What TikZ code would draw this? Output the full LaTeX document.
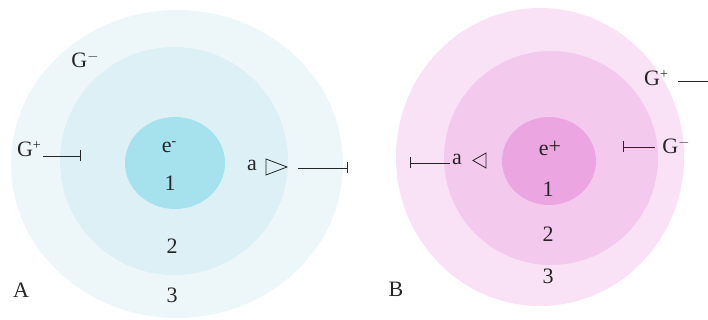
\documentclass[tikz,border=0pt]{standalone}
\usepackage{fontspec}
\setmainfont{Liberation Serif}
\usetikzlibrary{arrows.meta}
\definecolor{aouter}{HTML}{EDF7FA}
\definecolor{amid}{HTML}{DDF0F6}
\definecolor{ainner}{HTML}{A6E2EE}
\definecolor{bouter}{HTML}{F9E2F5}
\definecolor{bmid}{HTML}{F4C9EE}
\definecolor{binner}{HTML}{EBA6E2}
\newcommand{\supsign}[1]{\raisebox{7pt}{\fontsize{14}{14}\selectfont #1}}
\begin{document}
\begin{tikzpicture}[x=1pt,y=-1pt,
  lbl/.style={inner sep=0pt,font=\fontsize{22}{22}\selectfont,text=black!85},
  tickline/.style={draw=black!85,line width=0.8pt,-{Bar[width=11pt,line width=0.8pt]}},
  tri/.style={draw=black!85,line width=0.8pt,fill=none}]
\useasboundingbox (0,0) rectangle (708,320);
% A circles
\fill[aouter] (177,164) ellipse [x radius=166,y radius=154];
\fill[amid] (174,161) circle [radius=114];
\fill[ainner] (175,163) ellipse [x radius=50,y radius=46];
% B circles
\fill[bouter] (540,157) ellipse [x radius=144,y radius=149];
\fill[bmid] (551,158) circle [radius=107];
\fill[binner] (549,161) ellipse [x radius=47,y radius=44];
% A labels
\node[lbl] (gmA) at (85,60) {G\supsign{$-$}};
\node[lbl] (gpA) at (29,149) {G\supsign{+}};
\node[lbl] (eA) at (169,147) {e\supsign{-}};
\node[lbl] (oneA) at (170,183) {1};
\node[lbl] (twoA) at (172,246) {2};
\node[lbl] (threeA) at (172,295) {3};
\node[lbl] (labA) at (21,290) {A};
\node[lbl] (aA) at (252,165) {a};
\coordinate (gpAend) at (81,156);
\draw[tickline] (43,156) -- (gpAend);
\draw[tri] (266,159) -- (287,167) -- (266,175) -- cycle;
\coordinate (aAstart) at (298,168);
\coordinate (aAend) at (348,168);
\draw[tickline] (aAstart) -- (aAend);
% B labels
\node[lbl] (gpB) at (656,78) {G\supsign{+}};
\node[lbl] (gmB) at (676,146) {G\supsign{$-$}};
\node[lbl] (eB) at (550,148) {e\raisebox{2pt}{+}};
\node[lbl] (oneB) at (548,189) {1};
\node[lbl] (twoB) at (548,234) {2};
\node[lbl] (threeB) at (548,276) {3};
\node[lbl] (labB) at (396,289) {B};
\node[lbl] (aB) at (457,159) {a};
\coordinate (gpBend) at (708,81);
\draw[draw=black!85,line width=0.8pt] (678,81) -- (gpBend);
\coordinate (gmBend) at (623,147);
\draw[tickline] (655,147) -- (gmBend);
\draw[tri] (486,153) -- (473,160.5) -- (486,168) -- cycle;
\coordinate (aBend) at (410,163);
\draw[tickline] (450,163) -- (aBend);
\end{tikzpicture}
\end{document}
